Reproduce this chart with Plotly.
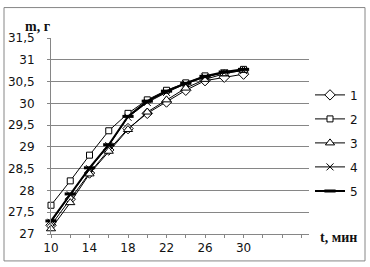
import plotly.graph_objects as go

t_min = [10, 12, 14, 16, 18, 20, 22, 24, 26, 28, 30]
s1 = [27.20, 27.80, 28.40, 28.93, 29.42, 29.77, 30.03, 30.30, 30.52, 30.60, 30.67]
s2 = [27.66, 28.22, 28.81, 29.37, 29.77, 30.08, 30.30, 30.47, 30.63, 30.70, 30.78]
s3 = [27.12, 27.72, 28.38, 28.90, 29.40, 29.80, 30.08, 30.35, 30.55, 30.68, 30.76]
s4 = [27.27, 27.90, 28.50, 29.03, 29.68, 30.02, 30.25, 30.45, 30.60, 30.70, 30.75]
s5 = [27.30, 27.92, 28.52, 29.05, 29.70, 30.05, 30.28, 30.46, 30.62, 30.72, 30.78]
names = ["1", "2", "3", "4", "5"]

x_tickvals = list(range(10, 38, 2))
x_ticktext = [str(v) if v in (10, 14, 18, 22, 26, 30) else "" for v in x_tickvals]
y_tickvals = [27, 27.5, 28, 28.5, 29, 29.5, 30, 30.5, 31, 31.5]
y_ticktext = ["27", "27,5", "28", "28,5", "29", "29,5", "30", "30,5", "31", "31,5"]

styles = [
    dict(symbol="diamond", size=8, lw=1, fill="white"),
    dict(symbol="square", size=6, lw=1, fill="white"),
    dict(symbol="triangle-up", size=8, lw=1, fill="white"),
    dict(symbol="x-thin-open", size=7, lw=1, fill="black"),
    dict(symbol="line-ew-open", size=8, lw=2, fill="black"),
]

fig = go.Figure()
for i, (name, ys) in enumerate(zip(names, [s1, s2, s3, s4, s5])):
    st = styles[i]
    fig.add_trace(go.Scatter(
        x=t_min, y=ys, name=name, mode="lines+markers",
        legendgroup=name, cliponaxis=False,
        line=dict(color="black", width=st["lw"]),
        marker=dict(symbol=st["symbol"], size=st["size"], color=st["fill"],
                    line=dict(color="black", width=3 if i == 4 else 1)),
    ))

W, H = 370, 267
l, r, t, b = 51, 61, 37.5, 33
pw, ph = W - l - r, H - t - b

def px_x(p):
    return (p - l) / pw

def px_y(p):
    return (H - b - p) / ph

fig.update_layout(
    width=W, height=H,
    margin=dict(l=l, r=r, t=t, b=b, autoexpand=False),
    paper_bgcolor="white", plot_bgcolor="white",
    font=dict(family="DejaVu Sans", size=12, color="#111111"),
    showlegend=True,
    legend=dict(x=px_x(310), y=px_y(80), xanchor="left", yanchor="top",
                font=dict(family="DejaVu Sans", size=12, color="#111111"),
                tracegroupgap=5, itemwidth=30, bgcolor="rgba(0,0,0,0)"),
    xaxis=dict(range=[10, 36.8], tickmode="array", tickvals=x_tickvals, ticktext=x_ticktext,
               showgrid=False, zeroline=False, showline=True, linecolor="#868686", linewidth=1,
               ticks="outside", ticklen=3, tickcolor="#868686", automargin=False,
               tickfont=dict(family="DejaVu Sans", size=12, color="#111111")),
    yaxis=dict(range=[27, 31.5], tickmode="array", tickvals=y_tickvals, ticktext=y_ticktext,
               showgrid=True, gridcolor="#868686", gridwidth=1, zeroline=False,
               showline=True, linecolor="#868686", linewidth=1, automargin=False,
               ticks="outside", ticklen=3, tickcolor="#868686", ticklabelstandoff=10,
               tickfont=dict(family="DejaVu Sans", size=12, color="#111111")),
    shapes=[dict(type="rect", xref="paper", yref="paper",
                 x0=px_x(4), x1=px_x(365), y0=px_y(261), y1=px_y(7),
                 line=dict(color="#868686", width=1), fillcolor="rgba(0,0,0,0)", layer="below")],
    annotations=[
        dict(text="<b>m, г</b>", xref="paper", yref="paper", x=px_x(37), y=px_y(26),
             xanchor="center", yanchor="middle", showarrow=False,
             font=dict(family="Liberation Serif", size=14, color="#111111")),
        dict(text="<b>t, мин</b>", xref="paper", yref="paper", x=px_x(318), y=px_y(238),
             xanchor="left", yanchor="middle", showarrow=False,
             font=dict(family="Liberation Serif", size=14, color="#111111")),
    ],
)

fig.write_html("out.html", config={"displayModeBar": False},
               post_script="document.body.style.margin='0';")
